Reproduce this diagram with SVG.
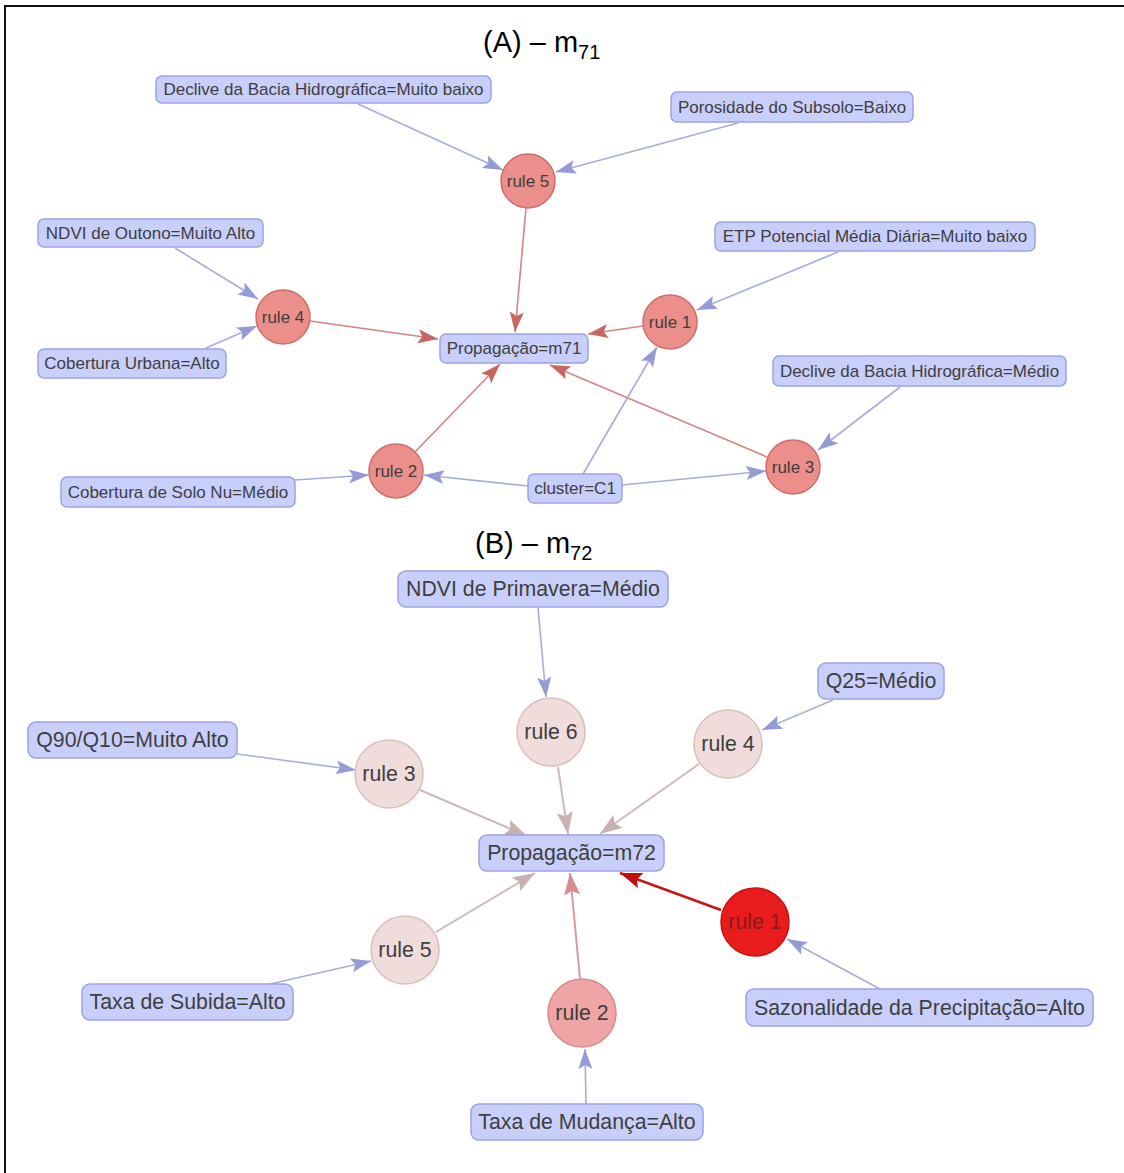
<svg xmlns="http://www.w3.org/2000/svg" width="1124" height="1173" viewBox="0 0 1124 1173">
  <style>
    .frame { fill: #ffffff; stroke: #111111; stroke-width: 2; }
    .title { font-family: "Liberation Sans", Arial, sans-serif; font-size: 29px; fill: #000000; }
    .box { fill: #c9cffb; stroke: #9aa2e2; stroke-width: 1.5; }
    .lbl { font-family: "Liberation Sans", Arial, sans-serif; fill: #3e3e3e; text-anchor: middle; dominant-baseline: central; }
    .sA { font-size: 17px; }
    .sB { font-size: 21.3px; }
    .ruleA { fill: #ec8f8b; stroke: #cf6b68; stroke-width: 1.5; }
    .ruleBpale { fill: #f0dcdb; stroke: #d8bebd; stroke-width: 1.5; }
    .ruleBmid { fill: #efa5a6; stroke: #d68a8b; stroke-width: 1.5; }
    .ruleBhot { fill: #e81c1c; stroke: #c91212; stroke-width: 1.5; }
    .eIn { stroke: #a8acdc; stroke-width: 1.6; fill: none; marker-end: url(#ahBlue); }
    .eOutA { stroke: #d48482; stroke-width: 1.6; fill: none; marker-end: url(#ahRed); }
    .eOutPale { stroke: #cdb9b9; stroke-width: 2; fill: none; marker-end: url(#ahPale); }
    .eOutMid { stroke: #d79a9b; stroke-width: 2; fill: none; marker-end: url(#ahMid); }
    .eOutHot { stroke: #c81414; stroke-width: 2.4; fill: none; marker-end: url(#ahHot); }
  </style>
  <defs>
    <marker id="ahBlue" viewBox="0 0 20 14" refX="20" refY="7" markerWidth="20" markerHeight="14" markerUnits="userSpaceOnUse" orient="auto">
      <path d="M0,0 L20,7 L0,14 L4,7 Z" fill="#959bd6"/>
    </marker>
    <marker id="ahRed" viewBox="0 0 20 14" refX="20" refY="7" markerWidth="20" markerHeight="14" markerUnits="userSpaceOnUse" orient="auto">
      <path d="M0,0 L20,7 L0,14 L4,7 Z" fill="#c86663"/>
    </marker>
    <marker id="ahPale" viewBox="0 0 22 16" refX="22" refY="8" markerWidth="22" markerHeight="16" markerUnits="userSpaceOnUse" orient="auto">
      <path d="M0,0 L22,8 L0,16 L4,8 Z" fill="#c9b1b1"/>
    </marker>
    <marker id="ahMid" viewBox="0 0 22 16" refX="22" refY="8" markerWidth="22" markerHeight="16" markerUnits="userSpaceOnUse" orient="auto">
      <path d="M0,0 L22,8 L0,16 L4,8 Z" fill="#d68e90"/>
    </marker>
    <marker id="ahHot" viewBox="0 0 22 16" refX="22" refY="8" markerWidth="22" markerHeight="16" markerUnits="userSpaceOnUse" orient="auto">
      <path d="M0,0 L22,8 L0,16 L4,8 Z" fill="#c20d0d"/>
    </marker>
  </defs>

  <!-- outer frame (open at right and bottom edges of the canvas) -->
  <rect class="frame" x="5" y="6" width="1135" height="1200"/>

  <!-- panel titles -->
  <text class="title" x="483" y="52">(A) – m<tspan font-size="20" dy="7">71</tspan></text>
  <text class="title" x="475" y="553">(B) – m<tspan font-size="20" dy="7">72</tspan></text>

  <!-- connectors -->
  <g id="edges">
    <!-- panel A -->
    <line class="eIn" x1="358" y1="104" x2="503" y2="170"/>
    <line class="eIn" x1="738" y1="123" x2="556" y2="172"/>
    <line class="eOutA" x1="526" y1="208" x2="515" y2="332"/>
    <line class="eIn" x1="175" y1="248" x2="258" y2="299"/>
    <line class="eIn" x1="206" y1="348" x2="257" y2="326"/>
    <line class="eOutA" x1="310" y1="321" x2="438" y2="339"/>
    <line class="eIn" x1="838" y1="252" x2="697" y2="310"/>
    <line class="eOutA" x1="643" y1="326" x2="588" y2="334"/>
    <line class="eIn" x1="900" y1="387" x2="818" y2="450"/>
    <line class="eOutA" x1="767" y1="457" x2="550" y2="365"/>
    <line class="eIn" x1="583" y1="474" x2="657" y2="347"/>
    <line class="eIn" x1="528" y1="486" x2="424" y2="475"/>
    <line class="eIn" x1="622" y1="485" x2="766" y2="471"/>
    <line class="eIn" x1="295" y1="480" x2="369" y2="475"/>
    <line class="eOutA" x1="415" y1="452" x2="500" y2="364"/>
    <!-- panel B -->
    <line class="eIn" x1="538" y1="608" x2="546" y2="697"/>
    <line class="eIn" x1="833" y1="700" x2="762" y2="730"/>
    <line class="eIn" x1="237" y1="754" x2="356" y2="770"/>
    <line class="eOutPale" x1="558" y1="767" x2="568" y2="834"/>
    <line class="eOutPale" x1="699" y1="764" x2="600" y2="834"/>
    <line class="eOutPale" x1="420" y1="790" x2="527" y2="836"/>
    <line class="eOutPale" x1="436" y1="932" x2="535" y2="873"/>
    <line class="eOutMid" x1="580" y1="979" x2="570" y2="873"/>
    <line class="eOutHot" x1="721" y1="910" x2="620" y2="873"/>
    <line class="eIn" x1="880" y1="989" x2="787" y2="939"/>
    <line class="eIn" x1="270" y1="984" x2="371" y2="961"/>
    <line class="eIn" x1="586" y1="1104" x2="585" y2="1049"/>
  </g>

  <!-- panel A nodes -->
  <g id="a-declive-muito-baixo"><rect class="box" x="156" y="76" width="335" height="27" rx="6"/><text class="lbl sA" x="323.5" y="89.5">Declive da Bacia Hidrográfica=Muito baixo</text></g>
  <g id="a-porosidade"><rect class="box" x="671" y="92" width="242" height="30" rx="6"/><text class="lbl sA" x="792" y="107">Porosidade do Subsolo=Baixo</text></g>
  <g id="a-ndvi-outono"><rect class="box" x="38" y="219" width="225" height="28" rx="6"/><text class="lbl sA" x="150.5" y="233">NDVI de Outono=Muito Alto</text></g>
  <g id="a-etp"><rect class="box" x="715" y="222" width="320" height="29" rx="6"/><text class="lbl sA" x="875" y="236.5">ETP Potencial Média Diária=Muito baixo</text></g>
  <g id="a-cobertura-urbana"><rect class="box" x="38" y="349" width="188" height="29" rx="6"/><text class="lbl sA" x="132" y="363.5">Cobertura Urbana=Alto</text></g>
  <g id="a-propagacao"><rect class="box" x="440" y="334" width="148" height="29" rx="6"/><text class="lbl sA" x="514" y="348.5">Propagação=m71</text></g>
  <g id="a-declive-medio"><rect class="box" x="773" y="356" width="293" height="30" rx="6"/><text class="lbl sA" x="919.5" y="371">Declive da Bacia Hidrográfica=Médio</text></g>
  <g id="a-solo-nu"><rect class="box" x="61" y="477" width="234" height="30" rx="6"/><text class="lbl sA" x="178" y="492">Cobertura de Solo Nu=Médio</text></g>
  <g id="a-cluster"><rect class="box" x="528" y="474" width="94" height="29" rx="6"/><text class="lbl sA" x="575" y="488.5">cluster=C1</text></g>
  <g id="a-rule5"><circle class="ruleA" cx="528" cy="181" r="27"/><text class="lbl sA" x="528" y="181">rule 5</text></g>
  <g id="a-rule4"><circle class="ruleA" cx="283" cy="317" r="27"/><text class="lbl sA" x="283" y="317">rule 4</text></g>
  <g id="a-rule1"><circle class="ruleA" cx="670" cy="322" r="27"/><text class="lbl sA" x="670" y="322">rule 1</text></g>
  <g id="a-rule2"><circle class="ruleA" cx="396" cy="471" r="27"/><text class="lbl sA" x="396" y="471">rule 2</text></g>
  <g id="a-rule3"><circle class="ruleA" cx="793" cy="467" r="27"/><text class="lbl sA" x="793" y="467">rule 3</text></g>

  <!-- panel B nodes -->
  <g id="b-ndvi-primavera"><rect class="box" x="398" y="571" width="270" height="36" rx="8"/><text class="lbl sB" x="533" y="589">NDVI de Primavera=Médio</text></g>
  <g id="b-q25"><rect class="box" x="818" y="663" width="126" height="36" rx="8"/><text class="lbl sB" x="881" y="681">Q25=Médio</text></g>
  <g id="b-q90q10"><rect class="box" x="28" y="722" width="209" height="36" rx="8"/><text class="lbl sB" x="132.5" y="740">Q90/Q10=Muito Alto</text></g>
  <g id="b-propagacao"><rect class="box" x="479" y="835" width="185" height="36" rx="8"/><text class="lbl sB" x="571.5" y="853">Propagação=m72</text></g>
  <g id="b-taxa-subida"><rect class="box" x="82" y="984" width="211" height="36" rx="8"/><text class="lbl sB" x="187.5" y="1002">Taxa de Subida=Alto</text></g>
  <g id="b-sazonalidade"><rect class="box" x="746" y="989" width="347" height="37" rx="8"/><text class="lbl sB" x="919.5" y="1007.5">Sazonalidade da Precipitação=Alto</text></g>
  <g id="b-taxa-mudanca"><rect class="box" x="471" y="1104" width="232" height="36" rx="8"/><text class="lbl sB" x="587" y="1122">Taxa de Mudança=Alto</text></g>
  <g id="b-rule6"><circle class="ruleBpale" cx="551" cy="732" r="34"/><text class="lbl sB" x="551" y="732">rule 6</text></g>
  <g id="b-rule4"><circle class="ruleBpale" cx="728" cy="744" r="34"/><text class="lbl sB" x="728" y="744">rule 4</text></g>
  <g id="b-rule3"><circle class="ruleBpale" cx="389" cy="774" r="34"/><text class="lbl sB" x="389" y="774">rule 3</text></g>
  <g id="b-rule5"><circle class="ruleBpale" cx="405" cy="950" r="34"/><text class="lbl sB" x="405" y="950">rule 5</text></g>
  <g id="b-rule2"><circle class="ruleBmid" cx="582" cy="1013" r="34"/><text class="lbl sB" x="582" y="1013">rule 2</text></g>
  <g id="b-rule1"><circle class="ruleBhot" cx="755" cy="922" r="34"/><text class="lbl sB" x="755" y="922" style="fill:#8a1a1a">rule 1</text></g>
</svg>
